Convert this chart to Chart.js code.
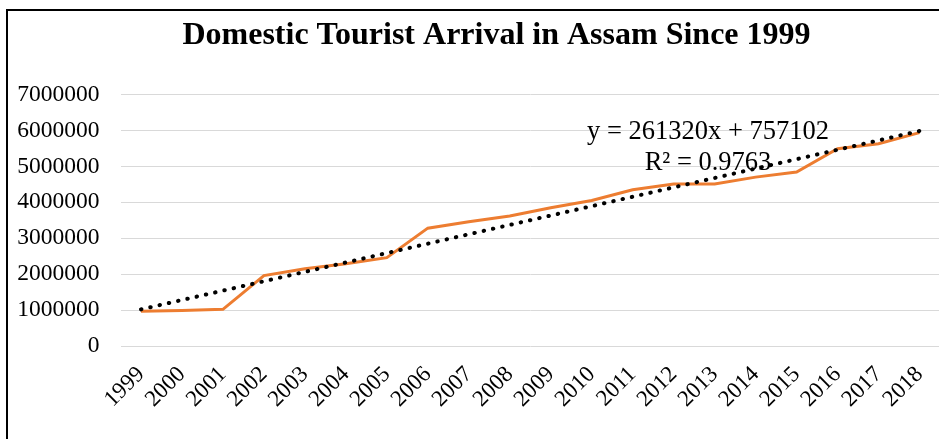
<!DOCTYPE html>
<html>
<head>
<meta charset="utf-8">
<title>Domestic Tourist Arrival in Assam Since 1999</title>
<script src="https://cdn.jsdelivr.net/npm/chart.js@4/dist/chart.umd.min.js"></script>
<style>
    html, body { margin: 0; padding: 0; background: #fff; overflow: hidden; }
    #frame {
        position: absolute;
        left: 6px;
        top: 9px;
        width: 990px;
        height: 430px;
        border-top: 2px solid #000;
        border-left: 2px solid #000;
    }
    #chart { display: block; }
</style>
</head>
<body>
<div id="frame">
    <canvas id="chart" width="990" height="430"></canvas>
</div>
<script>
var years = ["1999", "2000", "2001", "2002", "2003", "2004", "2005", "2006", "2007", "2008",
             "2009", "2010", "2011", "2012", "2013", "2014", "2015", "2016", "2017", "2018"];

// domestic tourist arrivals per year
var arrivals = [965000, 990000, 1020000, 1960000, 2150000, 2290000, 2460000, 3280000, 3460000, 3620000,
                3850000, 4050000, 4350000, 4510000, 4510000, 4700000, 4840000, 5490000, 5630000, 5940000];

var yTicks = [0, 1000000, 2000000, 3000000, 4000000, 5000000, 6000000, 7000000];

// linear trend as printed on the chart
var slope = 261320;
var intercept = 757102;
var rSquared = "0.9763";

var titleText = "Domestic Tourist Arrival in Assam Since 1999";
var serif = '"Liberation Serif", "Times New Roman", serif';

var trend = [];
for (var i = 0; i < years.length; i++) {
    trend.push(slope * (i + 1) + intercept);
}

// title and trend equation drawn straight on the canvas
var textPlugin = {
    id: "chartText",
    afterDraw: function (chart) {
        var ctx = chart.ctx;
        ctx.save();
        ctx.fillStyle = "#000";
        ctx.textAlign = "center";
        ctx.textBaseline = "alphabetic";

        ctx.font = "bold 32px " + serif;
        ctx.fillText(titleText, 488.5, 32.5);

        ctx.font = "26.5px " + serif;
        ctx.fillText("y = " + slope + "x + " + intercept, 700, 127.5);
        ctx.fillText("R\u00B2 = " + rSquared, 700, 158.5);
        ctx.restore();
    }
};

var ctx = document.getElementById("chart");

new Chart(ctx, {
    type: "line",
    data: {
        labels: years,
        datasets: [
            {
                label: "Linear trend",
                data: trend,
                borderColor: "#000",
                borderWidth: 4,
                borderDash: [0.5, 9],
                borderCapStyle: "round",
                pointRadius: 0,
                fill: false,
                tension: 0
            },
            {
                label: "Domestic tourists",
                data: arrivals,
                borderColor: "#ED7D31",
                borderWidth: 3,
                pointRadius: 0,
                fill: false,
                tension: 0
            }
        ]
    },
    options: {
        responsive: false,
        animation: false,
        events: [],
        layout: {
            padding: { top: 83.5, right: 58, bottom: 0, left: 0 }
        },
        plugins: {
            legend: { display: false },
            title: { display: false },
            tooltip: { enabled: false }
        },
        scales: {
            x: {
                offset: true,
                grid: { display: false },
                border: { display: false },
                ticks: {
                    autoSkip: false,
                    minRotation: 45,
                    maxRotation: 45,
                    padding: 7,
                    color: "#000",
                    font: { family: serif, size: 23 }
                },
                afterFit: function (scale) { scale.height = 95; }
            },
            y: {
                min: 0,
                max: 7000000,
                afterBuildTicks: function (scale) {
                    scale.ticks = yTicks.map(function (v) { return { value: v }; });
                },
                grid: { color: "#d9d9d9", lineWidth: 1, drawTicks: false },
                border: { display: false },
                ticks: {
                    padding: 21,
                    color: "#000",
                    font: { family: serif, size: 23.5 },
                    callback: function (v) { return String(v); }
                },
                afterFit: function (scale) { scale.width = 112.5; }
            }
        }
    },
    plugins: [textPlugin]
});
</script>
</body>
</html>
